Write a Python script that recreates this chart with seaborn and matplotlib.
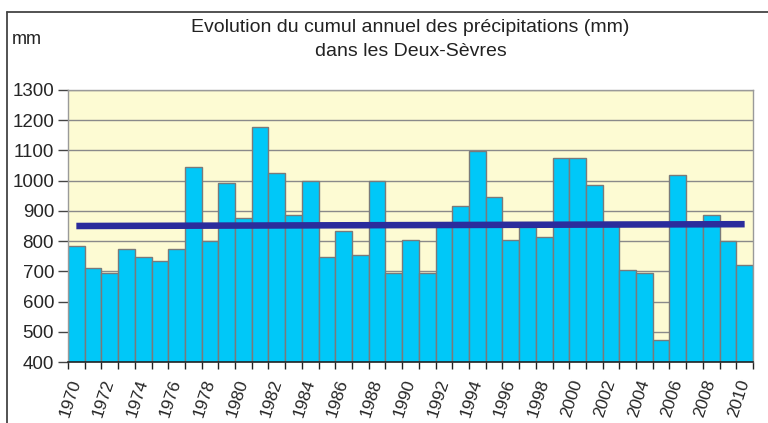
import numpy as np
import pandas as pd
import matplotlib
matplotlib.use("Agg")
import matplotlib.pyplot as plt
from matplotlib.ticker import FixedLocator
import seaborn as sns

# data
years = list(range(1970, 2011))
cumul_mm = [784, 711, 696, 775, 746, 734, 775, 1044, 800, 992,
            877, 1176, 1027, 886, 999, 748, 834, 755, 999, 696,
            803, 696, 852, 916, 1098, 945, 805, 848, 812, 1074,
            1074, 985, 850, 703, 696, 472, 1019, 852, 887, 799,
            720]
mean_years = [1970, 2010]
mean_mm = [850, 856]
y_ticks = list(range(400, 1301, 100))
x_labels = [str(y) if y % 2 == 0 else "" for y in years]

title_1 = "Evolution du cumul annuel des précipitations (mm)"
title_2 = "dans les Deux-Sèvres"
unit = "mm"

sns.set_style("white")
plt.rcParams["font.family"] = ["Liberation Sans", "DejaVu Sans"]

df = pd.DataFrame({"annee": [str(y) for y in years], "cumul": cumul_mm})

fig = plt.figure(figsize=(7.68, 4.23), dpi=100)
ax = fig.add_axes([68 / 768, 1 - 362 / 423, (753 - 68) / 768, (362 - 90) / 423])
ax.set_facecolor("#FDFBD3")

sns.barplot(data=df, x="annee", y="cumul", ax=ax, color="#00C8F8",
            saturation=1, width=1.0, edgecolor="#7A7A7A", linewidth=1, zorder=2)

# average line
xpos = [years.index(y) for y in mean_years]
ax.plot(xpos, mean_mm, color="#2B2C9C", linewidth=4.7, solid_capstyle="butt", zorder=3)

ax.set_ylim(400, 1300)
ax.set_xlim(-0.5, len(years) - 0.5)
ax.set_yticks(y_ticks)
ax.yaxis.grid(True, color="#8A8A8A", linewidth=1, zorder=1)
ax.set_axisbelow(True)

ax.set_xticks(range(len(years)))
ax.set_xticklabels(x_labels, rotation=72, ha="right", va="center",
                   rotation_mode="anchor", fontsize=12.5)
ax.xaxis.set_minor_locator(FixedLocator(np.arange(-0.5, len(years), 1)))
ax.tick_params(axis="x", which="major", length=0, pad=13)
ax.tick_params(axis="x", which="minor", length=5, width=1, color="#222222", direction="out", bottom=True)
ax.tick_params(axis="y", length=7, width=1, color="#444444", direction="out", left=True,
               labelsize=13.5, pad=3)
ax.set_xlabel("")
ax.set_ylabel("")

for side in ["top", "right", "left"]:
    ax.spines[side].set_color("#9A9A9A")
    ax.spines[side].set_linewidth(1)
ax.spines["bottom"].set_color("#222222")
ax.spines["bottom"].set_linewidth(1.2)

# outer frame, open on right and bottom like the cropped original
fig.add_artist(plt.Line2D([7 / 768, 1.0], [1 - 12 / 423, 1 - 12 / 423],
                          transform=fig.transFigure, color="#444444", linewidth=1.3))
fig.add_artist(plt.Line2D([7 / 768, 7 / 768], [0, 1 - 12 / 423],
                          transform=fig.transFigure, color="#444444", linewidth=1.3))

cx = (68 + 753) / 2 / 768
fig.text(cx, 1 - 27 / 423, title_1, ha="center", va="center", fontsize=14,
         color="#222222")
fig.text(cx, 1 - 51 / 423, title_2, ha="center", va="center", fontsize=14,
         color="#222222")
fig.text(12 / 768, 1 - 39 / 423, unit, ha="left", va="center", fontsize=13,
         color="#222222")

fig.savefig("out.png", dpi=100)
